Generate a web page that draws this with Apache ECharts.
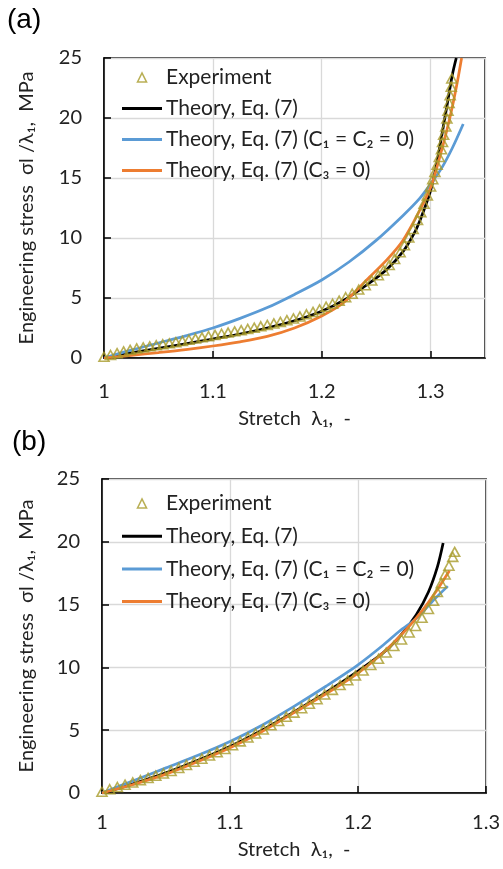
<!DOCTYPE html>
<html>
<head>
<meta charset="utf-8">
<script src="https://cdn.jsdelivr.net/npm/echarts@6/dist/echarts.min.js"></script>
<style>
html,body{margin:0;padding:0;background:#fff;}
#c{width:503px;height:869px;}
</style>
</head>
<body>
<div id="c"></div>
<script>
// ---------- Data ----------
const seriesNames = ['Experiment', 'Theory, Eq. (7)', 'Theory, Eq. (7) (C₁ = C₂ = 0)', 'Theory, Eq. (7) (C₃ = 0)'];
const yTicks = [0, 5, 10, 15, 20, 25];

// Panel (a): [stretch λ1, engineering stress MPa]
const expA = [
 [1.000,0.10],[1.006,0.25],[1.012,0.40],[1.018,0.55],[1.024,0.68],[1.030,0.80],[1.036,0.88],[1.042,0.97],
 [1.048,1.06],[1.054,1.14],[1.060,1.22],[1.066,1.32],[1.072,1.42],[1.078,1.52],[1.084,1.62],[1.090,1.72],
 [1.096,1.82],[1.102,1.92],[1.108,2.02],[1.114,2.12],[1.120,2.22],[1.126,2.32],[1.132,2.42],[1.138,2.53],
 [1.144,2.64],[1.150,2.76],[1.156,2.88],[1.162,3.01],[1.168,3.15],[1.174,3.30],[1.180,3.46],[1.186,3.64],
 [1.192,3.84],[1.198,4.05],[1.204,4.28],[1.210,4.52],[1.216,4.78],[1.222,5.06],[1.228,5.36],[1.234,5.70],
 [1.240,6.06],[1.246,6.46],[1.252,6.90],[1.257,7.30],[1.262,7.75],[1.267,8.25],[1.272,8.82],[1.276,9.40],
 [1.280,10.05],[1.284,10.75],[1.288,11.50],[1.291,12.15],[1.294,12.85],[1.297,13.55],[1.300,14.30],
 [1.302,14.90],[1.304,15.50],[1.306,16.10],[1.308,16.75],[1.310,17.40],[1.311,18.00],[1.312,18.60],
 [1.314,19.30],[1.315,19.95],[1.316,20.60],[1.317,21.25],[1.318,21.90],[1.319,22.60],[1.3195,23.30]
];
const theoryA = [
 [1.000,0],[1.010,0.18],[1.025,0.42],[1.050,0.80],[1.075,1.18],[1.100,1.58],[1.125,2.0],[1.150,2.5],
 [1.175,3.1],[1.200,3.9],[1.220,4.8],[1.240,6.0],[1.260,7.4],[1.275,8.9],[1.285,10.4],[1.290,11.4],
 [1.295,12.6],[1.300,13.95],[1.305,15.9],[1.310,18.4],[1.315,21.0],[1.320,23.6],[1.3236,25.0]
];
const theoryC12A = [
 [1.0,0],[1.025,0.65],[1.05,1.25],[1.075,1.85],[1.1,2.5],[1.125,3.3],[1.15,4.2],[1.175,5.3],[1.2,6.5],
 [1.225,8.0],[1.25,9.8],[1.275,11.9],[1.29,13.3],[1.3,14.5],[1.31,15.8],[1.32,17.5],[1.33,19.5]
];
const theoryC3A = [
 [1.0,0],[1.025,0.22],[1.05,0.45],[1.075,0.7],[1.1,1.0],[1.125,1.35],[1.15,1.8],[1.175,2.5],[1.2,3.5],
 [1.22,4.6],[1.244,6.75],[1.26,8.2],[1.2746,9.8],[1.29,12.3],[1.3,14.2],[1.3083,16.7],[1.315,19.0],
 [1.3205,21.15],[1.325,23.2],[1.3285,25.0]
];

// Panel (b)
const expB = [
 [1.000,0.10],[1.006,0.30],[1.012,0.48],[1.018,0.66],[1.024,0.84],[1.030,1.02],[1.036,1.20],[1.042,1.38],
 [1.048,1.55],[1.054,1.75],[1.060,1.99],[1.066,2.23],[1.072,2.48],[1.078,2.73],[1.084,2.98],[1.090,3.24],
 [1.096,3.51],[1.102,3.80],[1.108,4.11],[1.114,4.42],[1.120,4.74],[1.126,5.06],[1.132,5.39],[1.138,5.73],
 [1.144,6.07],[1.150,6.40],[1.156,6.75],[1.162,7.11],[1.168,7.47],[1.174,7.84],[1.180,8.21],[1.186,8.59],
 [1.192,8.97],[1.198,9.35],[1.204,9.75],[1.210,10.20],[1.216,10.68],[1.222,11.18],[1.228,11.70],
 [1.234,12.22],[1.240,12.78],[1.245,13.30],[1.250,13.95],[1.255,14.65],[1.259,15.30],[1.262,16.00],
 [1.265,16.70],[1.268,17.40],[1.271,18.10],[1.274,18.80],[1.2755,19.20]
];
const theoryB = [
 [1.0,0],[1.025,0.75],[1.05,1.6],[1.075,2.6],[1.1,3.7],[1.125,5.0],[1.15,6.45],[1.175,8.0],[1.2,9.7],
 [1.22,11.2],[1.2325,12.45],[1.2455,14.2],[1.255,16.0],[1.262,18.0],[1.2665,19.9]
];
const theoryC12B = [
 [1.0,0],[1.025,1.0],[1.05,2.0],[1.075,3.0],[1.1,4.1],[1.125,5.4],[1.15,6.9],[1.175,8.5],[1.2,10.2],
 [1.22,11.8],[1.2325,12.9],[1.2455,13.9],[1.2585,15.3],[1.2701,16.47]
];
const theoryC3B = [
 [1.0,0],[1.025,0.7],[1.05,1.5],[1.075,2.5],[1.1,3.6],[1.125,4.9],[1.15,6.4],[1.175,7.9],[1.2,9.55],
 [1.22,11.2],[1.2375,13.0],[1.25,14.5],[1.26,15.9],[1.2714,17.7]
];

// ---------- Styling ----------
const FONT = 'Lato';
const FS = 20;
const LFS = 21;
const TXT = '#222';
const OLIVE = '#A89B2A';
const BLACK = '#000000';
const BLUE = '#5B9BD5';
const ORANGE = '#ED7D31';
const LINE_ICON = 'path://M0,0 L40,0 L40,3 L0,3 Z';
const TRI_ICON = 'path://M0,9 L4.5,0 L9,9 Z';

function xAxis(idx, max, showMax, margin, nameGap) {
  return {
    type: 'value', gridIndex: idx, min: 1, max: max, interval: 0.1,
    name: 'Stretch  λ₁,  -', nameLocation: 'middle', nameGap: nameGap,
    nameTextStyle: {fontFamily: FONT, fontSize: FS, color: TXT},
    axisLine: {show: true, onZero: false, lineStyle: {color: '#000', width: 1.5}},
    axisTick: {show: true, inside: true, length: 7, lineStyle: {color: '#000', width: 1.5}},
    axisLabel: {fontFamily: FONT, fontSize: FS, color: TXT, margin: margin, showMaxLabel: showMax, showMinLabel: true},
    splitLine: {show: true, lineStyle: {color: '#D9D9D9', width: 1.3}}
  };
}
function yAxis(idx, nameGap) {
  return {
    type: 'value', gridIndex: idx, min: yTicks[0], max: yTicks[yTicks.length - 1], interval: 5,
    name: 'Engineering stress  σl /λ₁,  MPa', nameLocation: 'middle', nameGap: nameGap, nameRotate: 90,
    nameTextStyle: {fontFamily: FONT, fontSize: FS, color: TXT},
    axisLine: {show: true, lineStyle: {color: '#000', width: 1.5}},
    axisTick: {show: true, inside: true, length: 7, lineStyle: {color: '#000', width: 1.5}},
    axisLabel: {fontFamily: FONT, fontSize: FS, color: TXT, margin: 22},
    splitLine: {show: true, lineStyle: {color: '#D9D9D9', width: 1.3}}
  };
}
function lineSeries(name, data, color, idx) {
  return {
    name: name, type: 'line', xAxisIndex: idx, yAxisIndex: idx, data: data,
    symbol: 'none', showSymbol: false, smooth: 0.3, clip: true,
    lineStyle: {color: color, width: 2.75}, itemStyle: {color: color}, z: 2
  };
}
function expSeries(data, idx) {
  return {
    name: seriesNames[0], type: 'scatter', xAxisIndex: idx, yAxisIndex: idx, data: data,
    symbol: 'triangle', symbolSize: [10, 9], clip: false,
    itemStyle: {color: 'rgba(255,255,255,0)', borderColor: OLIVE, borderWidth: 1.6}, z: 5
  };
}
function legend(top, gap) {
  return {
    orient: 'vertical', left: 122, top: top, itemGap: gap, itemWidth: 40, itemHeight: 9, padding: 0,
    selectedMode: false,
    data: [
      {name: seriesNames[0], icon: TRI_ICON, itemStyle: {color: 'rgba(255,255,255,0)', borderColor: OLIVE, borderWidth: 1.6}},
      {name: seriesNames[1], icon: LINE_ICON, itemStyle: {color: BLACK, borderWidth: 0}},
      {name: seriesNames[2], icon: LINE_ICON, itemStyle: {color: BLUE, borderWidth: 0}},
      {name: seriesNames[3], icon: LINE_ICON, itemStyle: {color: ORANGE, borderWidth: 0}}
    ],
    textStyle: {fontFamily: FONT, fontSize: LFS, color: TXT, lineHeight: 20, padding: [0,0,0,-1]}
  };
}

const chart = echarts.init(document.getElementById('c'), null, {renderer: 'canvas'});
chart.setOption({
  backgroundColor: '#ffffff',
  animation: false,
  grid: [
    {left: 104, top: 58, width: 381, height: 300, show: true, borderColor: '#000', borderWidth: 1.5},
    {left: 102, top: 479, width: 385, height: 314, show: true, borderColor: '#000', borderWidth: 1.5}
  ],
  xAxis: [xAxis(0, 1.35, false, 24, 51), xAxis(1, 1.3, true, 20, 47)],
  yAxis: [yAxis(0, 67), yAxis(1, 65)],
  legend: [legend(67, 10), legend(493, 11.7)],
  graphic: [
    {type: 'text', left: 7, top: 6, style: {text: '(a)', font: '28px "Liberation Sans"', fill: '#000'}},
    {type: 'text', left: 12, top: 428, style: {text: '(b)', font: '28px "Liberation Sans"', fill: '#000'}}
  ],
  series: [
    lineSeries(seriesNames[1], theoryA, BLACK, 0),
    lineSeries(seriesNames[2], theoryC12A, BLUE, 0),
    lineSeries(seriesNames[3], theoryC3A, ORANGE, 0),
    expSeries(expA, 0),
    lineSeries(seriesNames[1], theoryB, BLACK, 1),
    lineSeries(seriesNames[2], theoryC12B, BLUE, 1),
    lineSeries(seriesNames[3], theoryC3B, ORANGE, 1),
    expSeries(expB, 1)
  ]
});
</script>
</body>
</html>
